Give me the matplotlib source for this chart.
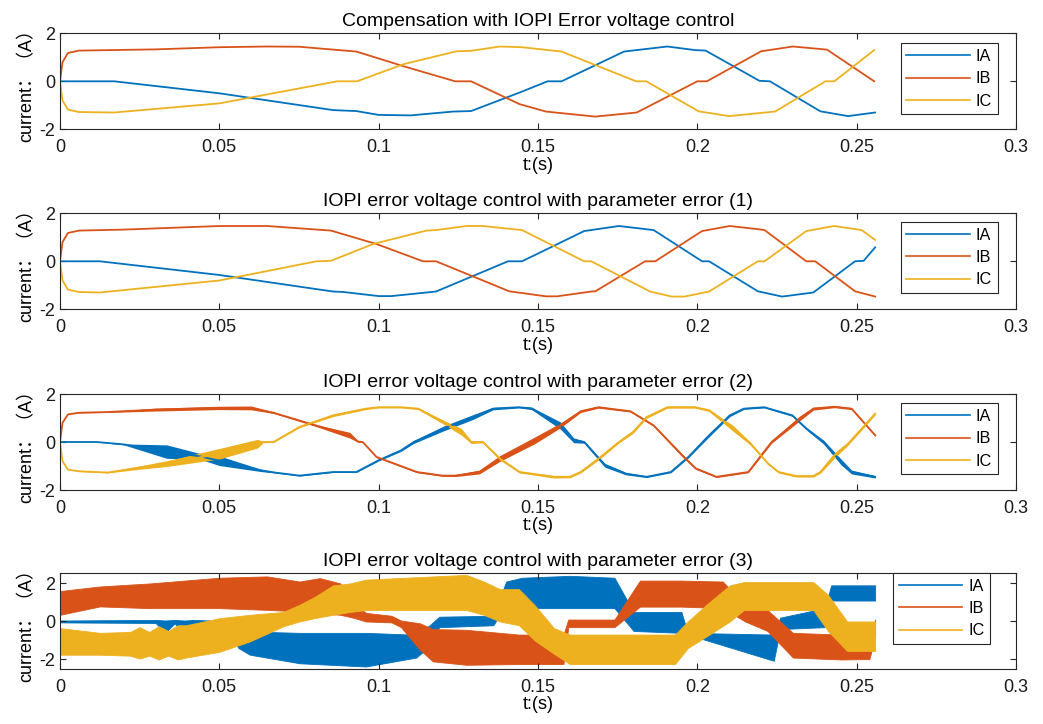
import matplotlib
matplotlib.use('Agg')
import matplotlib.pyplot as plt
from matplotlib.lines import Line2D
import numpy as np

plt.rcParams['font.family'] = ['Liberation Sans', 'Noto Sans CJK SC', 'DejaVu Sans']
plt.rcParams['axes.unicode_minus'] = False

phase_names = ['IA', 'IB', 'IC']
phase_colors = ['#0072BD', '#D95319', '#EDB120']

titles = ['Compensation with IOPI Error voltage control',
          'IOPI error voltage control with parameter error (1)',
          'IOPI error voltage control with parameter error (2)',
          'IOPI error voltage control with parameter error (3)']

xtick_vals = [0, 0.05, 0.1, 0.15, 0.2, 0.25, 0.3]
xtick_labels = ['0', '0.05', '0.1', '0.15', '0.2', '0.25', '0.3']
ytick_vals = [-2, 0, 2]
ytick_labels = ['-2', '0', '2']

# ---- case 1: compensation, IOPI error voltage control ----
p1_t_ia = [0, 0.017, 0.05, 0.0857, 0.093, 0.1, 0.11, 0.1234, 0.129, 0.1442, 0.153, 0.1574,
           0.177, 0.1906, 0.1993, 0.2026, 0.2195, 0.2228, 0.2386, 0.2473, 0.2558]
p1_ia = [0, 0, -0.5, -1.2, -1.24, -1.4, -1.42, -1.26, -1.24, -0.47, 0, 0,
         1.24, 1.45, 1.3, 1.28, 0.02, 0, -1.25, -1.45, -1.3]
p1_t_ib = [0, 0.0008, 0.0025, 0.006, 0.03, 0.05, 0.065, 0.075, 0.093, 0.108, 0.124, 0.129,
           0.1442, 0.1525, 0.168, 0.181, 0.2, 0.203, 0.22, 0.23, 0.2407, 0.2555]
p1_ib = [0, 0.8, 1.18, 1.28, 1.33, 1.42, 1.45, 1.44, 1.24, 0.62, 0, 0,
         -0.95, -1.26, -1.47, -1.3, 0, 0, 1.25, 1.45, 1.32, 0]
p1_t_ic = [0, 0.0008, 0.0025, 0.006, 0.017, 0.05, 0.087, 0.0932, 0.108, 0.1244, 0.129, 0.138,
           0.145, 0.1574, 0.1808, 0.184, 0.2004, 0.21, 0.2244, 0.2402, 0.243, 0.2555]
p1_ic = [0, -0.8, -1.18, -1.28, -1.3, -0.92, 0, 0, 0.72, 1.25, 1.27, 1.45,
         1.42, 1.24, 0, 0, -1.25, -1.45, -1.26, 0, 0, 1.3]

# ---- case 2: parameter error (1) ----
p2_t_ia = [0, 0.0125, 0.05, 0.0857, 0.089, 0.1, 0.104, 0.118, 0.1406, 0.145, 0.1645, 0.1754,
           0.1863, 0.2015, 0.2037, 0.219, 0.2266, 0.2364, 0.2495, 0.2522, 0.2558]
p2_ia = [0, 0, -0.57, -1.26, -1.28, -1.45, -1.45, -1.26, 0, 0, 1.26, 1.47,
         1.3, 0, 0, -1.25, -1.47, -1.3, 0, 0.02, 0.58]
p2_t_ib = [0, 0.0008, 0.0025, 0.006, 0.02, 0.05, 0.065, 0.085, 0.0993, 0.1139, 0.118, 0.141,
           0.1525, 0.156, 0.1667, 0.168, 0.1836, 0.1868, 0.2015, 0.2102, 0.2195, 0.2211,
           0.2342, 0.237, 0.2495, 0.2558]
p2_ib = [0, 0.8, 1.18, 1.28, 1.32, 1.47, 1.47, 1.28, 0.72, 0, 0, -1.25,
         -1.46, -1.46, -1.26, -1.25, 0, 0, 1.26, 1.47, 1.33, 1.3,
         0, 0, -1.25, -1.47]
p2_t_ic = [0, 0.0008, 0.0025, 0.006, 0.0125, 0.05, 0.0805, 0.085, 0.0983, 0.115, 0.118, 0.1276,
           0.1327, 0.145, 0.1645, 0.1667, 0.1852, 0.192, 0.196, 0.2037, 0.219, 0.2211,
           0.2342, 0.2429, 0.2516, 0.2558]
p2_ic = [0, -0.8, -1.18, -1.28, -1.3, -0.8, 0, 0.02, 0.72, 1.28, 1.3, 1.47,
         1.47, 1.3, 0, 0, -1.26, -1.47, -1.47, -1.26, 0, 0,
         1.26, 1.47, 1.3, 0.89]

# ---- case 3: parameter error (2), centre value and ripple half-width ----
p3_t_ia = [0, 0.0115, 0.02, 0.0335, 0.044, 0.05, 0.063, 0.0679, 0.0752, 0.0857,
           0.093, 0.1, 0.107, 0.111, 0.1203, 0.1296, 0.1359, 0.144, 0.148, 0.157,
           0.1612, 0.1645, 0.171, 0.1776, 0.1841, 0.1917, 0.1972, 0.2037, 0.2102, 0.2146,
           0.221, 0.2298, 0.2342, 0.2396, 0.2451, 0.2484, 0.2558]
p3_ia = [0, 0, -0.1, -0.4, -0.6, -0.78, -1.18, -1.28, -1.4, -1.25,
         -1.25, -0.76, -0.35, 0, 0.56, 1.04, 1.39, 1.45, 1.4, 0.69,
         0.07, 0, -0.97, -1.32, -1.45, -1.25, -0.62, 0.28, 1.11, 1.39,
         1.45, 1.11, 0.56, 0, -0.83, -1.25, -1.45]
p3_ia_rip = [0, 0, 0.02, 0.28, 0.12, 0.2, 0.05, 0.02, 0.02, 0.02,
             0.02, 0.03, 0.04, 0.06, 0.1, 0.1, 0.05, 0.03, 0.05, 0.15,
             0.1, 0.05, 0.08, 0.05, 0.03, 0.03, 0.04, 0.06, 0.05, 0.03,
             0.03, 0.04, 0.05, 0.08, 0.12, 0.08, 0.05]
p3_t_ib = [0, 0.0008, 0.0025, 0.006, 0.015, 0.03, 0.05, 0.06, 0.067, 0.08,
           0.091, 0.0935, 0.095, 0.0993, 0.112, 0.12, 0.124, 0.1316, 0.138, 0.149,
           0.157, 0.1634, 0.169, 0.179, 0.1863, 0.1952, 0.1995, 0.206, 0.216, 0.2233,
           0.232, 0.2364, 0.243, 0.2484, 0.2558]
p3_ib = [0, 0.8, 1.15, 1.22, 1.25, 1.35, 1.42, 1.42, 1.22, 0.7,
         0.28, 0.02, 0, -0.62, -1.25, -1.4, -1.4, -1.25, -0.69, 0.07,
         0.69, 1.28, 1.45, 1.28, 0.69, -0.55, -1.1, -1.45, -1.25, 0,
         0.97, 1.39, 1.47, 1.39, 0.28]
p3_ib_rip = [0, 0, 0, 0.01, 0.02, 0.06, 0.07, 0.08, 0.03, 0.04,
             0.12, 0.03, 0.02, 0.03, 0.03, 0.03, 0.04, 0.08, 0.12, 0.14,
             0.1, 0.05, 0.04, 0.03, 0.04, 0.06, 0.04, 0.03, 0.03, 0.05,
             0.1, 0.06, 0.04, 0.04, 0.04]
p3_t_ic = [0, 0.0008, 0.0025, 0.006, 0.015, 0.0233, 0.0335, 0.05, 0.062, 0.0637,
           0.067, 0.0752, 0.0857, 0.096, 0.1, 0.107, 0.1124, 0.1203, 0.126, 0.129,
           0.1327, 0.138, 0.1442, 0.155, 0.16, 0.1634, 0.169, 0.1754, 0.1798, 0.1841,
           0.1906, 0.1993, 0.2037, 0.2113, 0.2167, 0.2222, 0.2255, 0.231, 0.2364, 0.2386,
           0.243, 0.2473, 0.2516, 0.2558]
p3_ic = [0, -0.8, -1.15, -1.22, -1.27, -1.1, -0.9, -0.49, -0.07, 0,
         0, 0.63, 1.11, 1.39, 1.45, 1.45, 1.39, 0.83, 0.42, 0,
         0, -0.69, -1.25, -1.45, -1.45, -1.25, -0.69, 0, 0.42, 1.04,
         1.45, 1.45, 1.32, 0.56, -0.07, -0.9, -1.25, -1.42, -1.42, -1.25,
         -0.56, -0.07, 0.56, 1.18]
p3_ic_rip = [0, 0, 0, 0.01, 0.02, 0.06, 0.12, 0.22, 0.18, 0.03,
             0.02, 0.03, 0.05, 0.04, 0.03, 0.03, 0.04, 0.08, 0.14, 0.06,
             0.04, 0.06, 0.04, 0.05, 0.04, 0.04, 0.06, 0.04, 0.06, 0.05,
             0.04, 0.04, 0.05, 0.12, 0.06, 0.04, 0.04, 0.04, 0.04, 0.05,
             0.12, 0.06, 0.06, 0.05]

# ---- case 4: parameter error (3), lower / upper envelope of the noisy current ----
p4_t_ia = [0, 0.03, 0.033, 0.036, 0.039, 0.042, 0.047, 0.05, 0.053, 0.056,
           0.0596, 0.0752, 0.096, 0.1118, 0.116, 0.119, 0.136, 0.14, 0.145, 0.16,
           0.174, 0.18, 0.195, 0.197, 0.224, 0.226, 0.24, 0.242, 0.2558]
p4_ia_lo = [-0.05, -0.08, -0.6, -0.1, -0.7, -0.1, -0.2, -1.5, -0.6, -1.4,
            -1.75, -2.2, -2.37, -1.9, -1.3, -0.3, -0.2, 0.9, 0.7, 0.7,
            0.7, -0.5, -0.6, -0.69, -2.07, -0.4, -0.3, 1.1, 1.1]
p4_ia_hi = [0.05, 0.08, 0.05, 0.08, 0.05, 0.08, 0.05, -0.2, -0.3, -0.4,
            -0.53, -0.6, -0.6, -0.7, -0.2, 0.25, 0.3, 2.1, 2.3, 2.4,
            2.3, 0.5, 0.5, -0.6, -0.69, 0.2, 0.7, 1.9, 1.9]
p4_t_ib = [0, 0.0125, 0.0282, 0.05, 0.065, 0.0752, 0.0815, 0.088, 0.092, 0.096,
           0.104, 0.107, 0.113, 0.117, 0.1275, 0.144, 0.158, 0.1595, 0.174, 0.182,
           0.195, 0.208, 0.215, 0.222, 0.23, 0.245, 0.254, 0.2558]
p4_ib_lo = [0.35, 0.79, 0.7, 0.7, 0.61, 0.53, 0.44, 0.35, 0.2, 0.0,
            -0.05, -0.3, -1.5, -2.1, -2.28, -2.24, -2.24, -0.3, -0.3, 0.78,
            0.78, 0.7, 0.0, -0.5, -1.9, -2.0, -1.98, -0.8]
p4_ib_hi = [1.6, 1.84, 2.0, 2.3, 2.37, 2.1, 2.28, 2.0, 1.0, 0.45,
            0.3, 0.05, -0.1, -0.4, -0.44, -0.69, -0.69, 0.1, 0.1, 2.15,
            2.15, 2.1, 0.8, 0.6, -0.6, -0.69, -0.69, 0.1]
p4_t_ic = [0, 0.0125, 0.022, 0.025, 0.028, 0.031, 0.034, 0.037, 0.0395, 0.05,
           0.0596, 0.0701, 0.0752, 0.08, 0.0857, 0.091, 0.096, 0.1275, 0.133, 0.138,
           0.144, 0.149, 0.155, 0.16, 0.193, 0.197, 0.2037, 0.2102, 0.2146, 0.2364,
           0.241, 0.247, 0.2558]
p4_ic_lo = [-1.75, -1.75, -1.8, -1.95, -1.8, -2.0, -1.8, -2.0, -1.9, -1.6,
            -1.05, -0.25, 0.0, 0.18, 0.35, 0.5, 0.6, 0.6, 0.35, 0.0,
            -0.2, -1.0, -1.7, -2.24, -2.24, -1.4, -0.7, 0.0, 0.6, 0.6,
            -0.5, -1.55, -1.55]
p4_ic_hi = [-0.35, -0.6, -0.55, -0.3, -0.55, -0.25, -0.5, -0.2, -0.2, 0.17,
            0.35, 0.5, 0.88, 1.3, 1.9, 2.0, 2.2, 2.45, 2.1, 1.7,
            1.7, 0.85, -0.35, -0.69, -0.69, 0.0, 1.0, 1.9, 2.07, 2.07,
            1.4, 0.0, 0.0]

edge = '#262626'


def style_axes(ax, title, ylim, legend_anchor, handles):
    ax.set_xlim(0, 0.3)
    ax.set_ylim(*ylim)
    ax.set_xticks(xtick_vals)
    ax.set_xticklabels(xtick_labels)
    ax.set_yticks(ytick_vals)
    ax.set_yticklabels(ytick_labels)
    ax.tick_params(direction='in', top=True, right=True, length=4, width=0.8,
                   labelsize=13, colors=edge, labelcolor='#1a1a1a')
    ax.tick_params(axis='x', pad=7)
    ax.tick_params(axis='y', pad=3.5)
    for sp in ax.spines.values():
        sp.set_color(edge)
        sp.set_linewidth(0.8)
    ax.set_title(title, fontsize=14, pad=5)
    ax.set_xlabel('t:(s)', fontsize=13, labelpad=0.5)
    ax.set_ylabel('current：（A）', fontsize=13, labelpad=3)
    leg = ax.legend(handles=handles, labels=phase_names, loc='upper right',
                    bbox_to_anchor=legend_anchor, borderaxespad=0, fontsize=11.7,
                    handlelength=3.9, handletextpad=0.37, borderpad=0.35,
                    labelspacing=0.45, fancybox=False, framealpha=1, edgecolor=edge)
    leg.get_frame().set_linewidth(0.8)


fig = plt.figure(figsize=(10.43, 7.24), dpi=100)
left, width, height = 0.0575, 0.9166, 0.1326
bottoms = [0.8214, 0.5728, 0.3232, 0.0760]
axes = [fig.add_axes([left, b, width, height]) for b in bottoms]

# case 1 and 2: clean lines
for ax, data in [(axes[0], [(p1_t_ia, p1_ia), (p1_t_ib, p1_ib), (p1_t_ic, p1_ic)]),
                 (axes[1], [(p2_t_ia, p2_ia), (p2_t_ib, p2_ib), (p2_t_ic, p2_ic)])]:
    for (t, v), c in zip(data, phase_colors):
        ax.plot(t, v, color=c, lw=1.3)

# case 3: lines with ripple band
for t, v, r, c in [(p3_t_ia, p3_ia, p3_ia_rip, phase_colors[0]),
                   (p3_t_ib, p3_ib, p3_ib_rip, phase_colors[1]),
                   (p3_t_ic, p3_ic, p3_ic_rip, phase_colors[2])]:
    t, v, r = np.array(t), np.array(v), np.array(r)
    axes[2].fill_between(t, v - r, v + r, color=c, lw=0)
    axes[2].plot(t, v, color=c, lw=1.3)

# case 4: heavy switching noise drawn as envelope bands
for t, lo, hi, c in [(p4_t_ia, p4_ia_lo, p4_ia_hi, phase_colors[0]),
                     (p4_t_ib, p4_ib_lo, p4_ib_hi, phase_colors[1]),
                     (p4_t_ic, p4_ic_lo, p4_ic_hi, phase_colors[2])]:
    axes[3].fill_between(t, lo, hi, color=c, lw=0.6, edgecolor=c)

handles = [Line2D([], [], color=c, lw=1.2) for c in phase_colors]
anchors = [(0.981, 0.896), (0.981, 0.909), (0.981, 0.902), (0.973, 1.0)]
ylims = [(-2, 2), (-2, 2), (-2, 2), (-2.5, 2.55)]
for ax, title, yl, anc in zip(axes, titles, ylims, anchors):
    style_axes(ax, title, yl, anc, handles)

fig.savefig('out.png', dpi=100)
